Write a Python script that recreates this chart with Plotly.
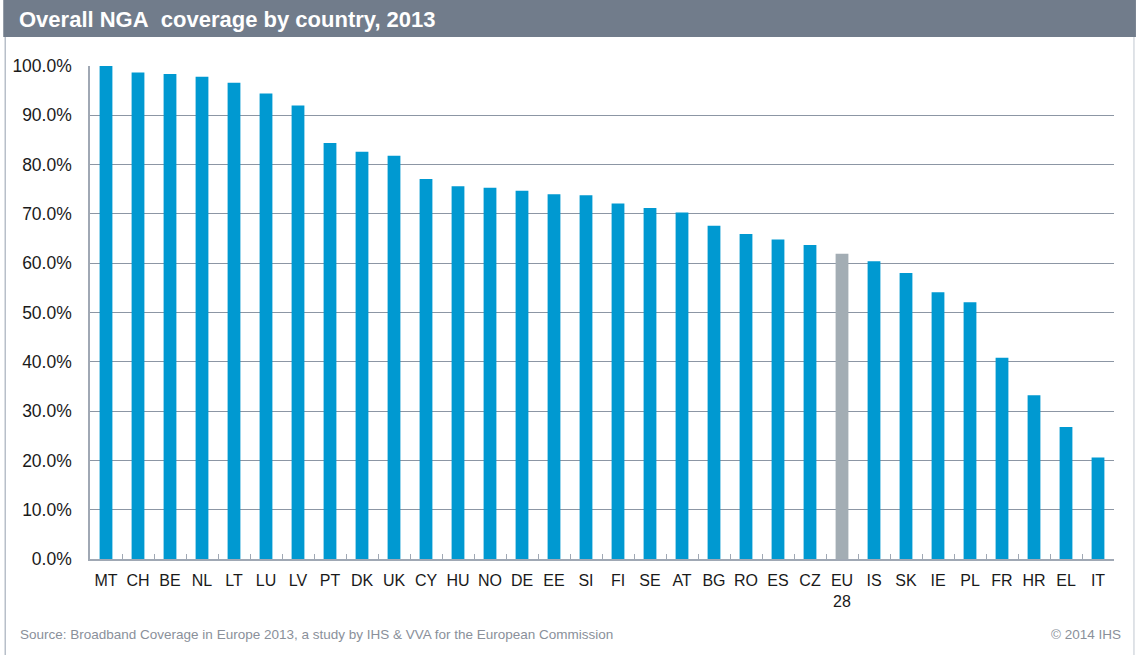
import plotly.graph_objects as go

countries = ["MT", "CH", "BE", "NL", "LT", "LU", "LV", "PT", "DK", "UK", "CY", "HU", "NO",
             "DE", "EE", "SI", "FI", "SE", "AT", "BG", "RO", "ES", "CZ", "EU<br>28", "IS",
             "SK", "IE", "PL", "FR", "HR", "EL", "IT"]
coverage = [100.0, 98.7, 98.4, 97.8, 96.6, 94.4, 92.0, 84.4, 82.6, 81.8, 77.1, 75.6, 75.3,
            74.7, 74.0, 73.8, 72.1, 71.2, 70.3, 67.6, 65.9, 64.8, 63.7, 61.9, 60.4,
            58.0, 54.1, 52.1, 40.8, 33.2, 26.8, 20.6]
y_ticks = [0, 10, 20, 30, 40, 50, 60, 70, 80, 90, 100]

BLUE = "#0099D1"
GREY_BAR = "#A3ADB4"
colors = [GREY_BAR if c.startswith("EU") else BLUE for c in countries]

W, H = 1136, 655
ML, MR, MT_, MB = 87, 22, 66, 96
pw = W - ML - MR
ph = H - MT_ - MB

def px_x(x):
    return (x - ML) / pw

def px_y(y):
    return (H - MB - y) / ph

fig = go.Figure()
fig.add_trace(go.Bar(
    x=countries, y=coverage,
    marker=dict(color=colors, line=dict(width=0)),
    hoverinfo="x+y",
))

GRID = "#8C96A4"
fig.update_layout(
    width=W, height=H,
    margin=dict(l=ML, r=MR, t=MT_, b=MB),
    paper_bgcolor="white", plot_bgcolor="white",
    bargap=0.6,
    showlegend=False,
    font=dict(family="Liberation Sans, Arial, sans-serif", color="#1a1a1a"),
    xaxis=dict(
        type="category",
        showline=True, linecolor="#A0A8B4", linewidth=1.5,
        ticks="inside", tickson="boundaries", ticklen=5, tickcolor="#A0A8B4", tickwidth=1,
        tickfont=dict(size=16, color="#1a1a1a"),
        tickangle=0,
        ticklabelstandoff=6,
        showgrid=False,
    ),
    yaxis=dict(
        range=[0, 100], tickvals=y_ticks,
        ticktext=[f"{v:.1f}%" for v in y_ticks],
        showgrid=True, gridcolor=GRID, gridwidth=1.3,
        showline=True, linecolor="#A0A8B4", linewidth=1.5,
        ticks="", tickfont=dict(size=17.5, color="#1a1a1a"),
        ticklabelstandoff=13,
        zeroline=False,
    ),
    shapes=[
        dict(type="rect", xref="paper", yref="paper",
             x0=px_x(0), x1=px_x(W), y0=px_y(37), y1=px_y(0),
             fillcolor="#717C8B", line=dict(width=0), layer="above"),
        dict(type="line", xref="paper", yref="paper",
             x0=px_x(2), x1=px_x(2), y0=px_y(37), y1=px_y(H),
             line=dict(color="#B8BFC9", width=1.5)),
        dict(type="line", xref="paper", yref="paper",
             x0=px_x(1134), x1=px_x(1134), y0=px_y(37), y1=px_y(H),
             line=dict(color="#D5DAE0", width=1.5)),
    ],
    annotations=[
        dict(text="<b>Overall NGA\u00a0 coverage by country, 2013</b>",
             xref="paper", yref="paper", x=px_x(14), y=px_y(19),
             xanchor="left", yanchor="middle", showarrow=False,
             font=dict(size=22, color="white", family="Liberation Sans, Arial, sans-serif")),
        dict(text="Source: Broadband Coverage in Europe 2013, a study by IHS & VVA for the European Commission",
             xref="paper", yref="paper", x=px_x(15), y=px_y(634),
             xanchor="left", yanchor="middle", showarrow=False,
             font=dict(size=13.5, color="#8A909A")),
        dict(text="© 2014 IHS",
             xref="paper", yref="paper", x=px_x(1123), y=px_y(634),
             xanchor="right", yanchor="middle", showarrow=False,
             font=dict(size=13.5, color="#8A909A")),
    ],
)

fig.write_html("out.html",
               config={"displayModeBar": False},
               post_script="document.body.style.margin='0';document.body.style.padding='0';")
